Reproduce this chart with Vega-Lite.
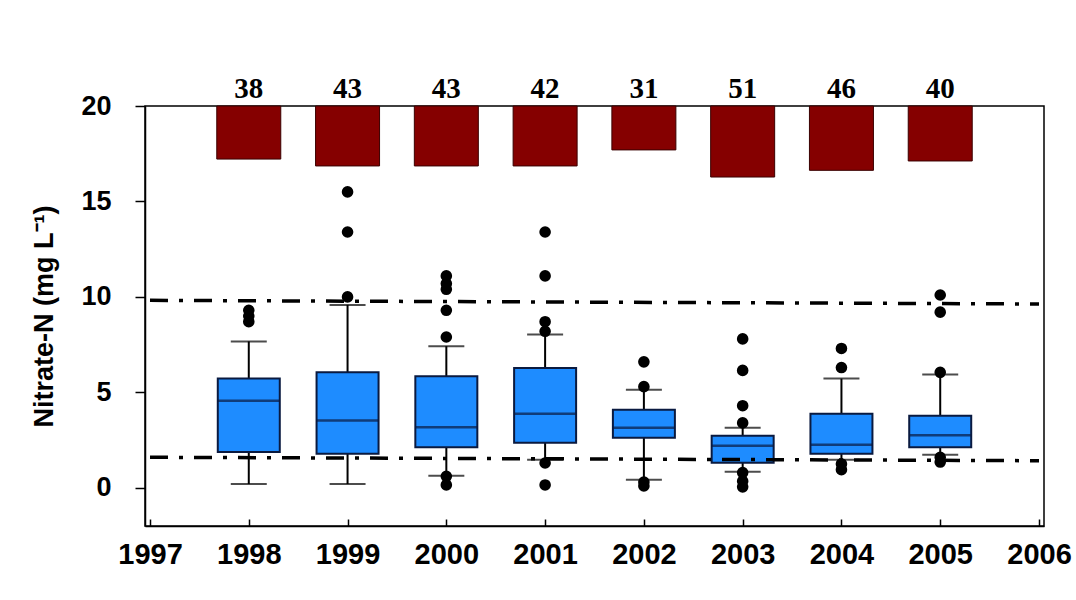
{
  "$schema": "https://vega.github.io/schema/vega-lite/v6.json",
  "width": 899,
  "height": 420,
  "autosize": {"type": "none"},
  "padding": {"left": 145, "top": 106, "right": 32, "bottom": 74},
  "background": "#ffffff",
  "config": {
    "view": {"stroke": "#000000", "strokeWidth": 1.5},
    "axis": {"domainColor": "#000000", "tickColor": "#000000", "domainWidth": 1.5, "tickWidth": 1.5, "grid": false, "labelColor": "#000000", "titleColor": "#000000", "labelFont": "Liberation Sans", "titleFont": "Liberation Sans"}
  },
  "datasets": {
    "boxes": [
      {"year": 1998, "n": 38, "barBottom": 17.22, "lw": 0.2, "q1": 1.88, "med": 4.56, "q3": 5.72, "uw": 7.67},
      {"year": 1999, "n": 43, "barBottom": 16.86, "lw": 0.2, "q1": 1.78, "med": 3.52, "q3": 6.05, "uw": 9.58},
      {"year": 2000, "n": 43, "barBottom": 16.86, "lw": 0.63, "q1": 2.12, "med": 3.17, "q3": 5.84, "uw": 7.42},
      {"year": 2001, "n": 42, "barBottom": 16.86, "lw": 1.47, "q1": 2.36, "med": 3.88, "q3": 6.28, "uw": 8.03},
      {"year": 2002, "n": 31, "barBottom": 17.7, "lw": 0.42, "q1": 2.62, "med": 3.15, "q3": 4.09, "uw": 5.14},
      {"year": 2003, "n": 51, "barBottom": 16.28, "lw": 0.84, "q1": 1.31, "med": 2.2, "q3": 2.73, "uw": 3.15},
      {"year": 2004, "n": 46, "barBottom": 16.63, "lw": 1.47, "q1": 1.78, "med": 2.26, "q3": 3.88, "uw": 5.72},
      {"year": 2005, "n": 40, "barBottom": 17.12, "lw": 1.73, "q1": 2.12, "med": 2.75, "q3": 3.78, "uw": 5.93}
    ],
    "outliers": [
      {"year": 1998, "v": 9.3}, {"year": 1998, "v": 9.0}, {"year": 1998, "v": 8.7},
      {"year": 1999, "v": 15.5}, {"year": 1999, "v": 13.4}, {"year": 1999, "v": 10.0},
      {"year": 2000, "v": 11.1}, {"year": 2000, "v": 10.7}, {"year": 2000, "v": 10.4}, {"year": 2000, "v": 9.3}, {"year": 2000, "v": 7.9}, {"year": 2000, "v": 0.6}, {"year": 2000, "v": 0.15},
      {"year": 2001, "v": 13.4}, {"year": 2001, "v": 11.1}, {"year": 2001, "v": 8.7}, {"year": 2001, "v": 8.2}, {"year": 2001, "v": 1.3}, {"year": 2001, "v": 0.15},
      {"year": 2002, "v": 6.6}, {"year": 2002, "v": 5.3}, {"year": 2002, "v": 0.3}, {"year": 2002, "v": 0.1},
      {"year": 2003, "v": 7.8}, {"year": 2003, "v": 6.15}, {"year": 2003, "v": 4.3}, {"year": 2003, "v": 3.4}, {"year": 2003, "v": 0.8}, {"year": 2003, "v": 0.35}, {"year": 2003, "v": 0.05},
      {"year": 2004, "v": 7.3}, {"year": 2004, "v": 6.3}, {"year": 2004, "v": 1.25}, {"year": 2004, "v": 0.95},
      {"year": 2005, "v": 10.1}, {"year": 2005, "v": 9.2}, {"year": 2005, "v": 6.05}, {"year": 2005, "v": 1.6}, {"year": 2005, "v": 1.35}
    ],
    "refs": [
      {"line": "upper", "x": 1997, "y": 9.82}, {"line": "upper", "x": 2006, "y": 9.63},
      {"line": "lower", "x": 1997, "y": 1.6}, {"line": "lower", "x": 2006, "y": 1.42}
    ]
  },
  "encoding": {
    "x": {
      "field": "year", "type": "quantitative",
      "scale": {"domain": [1997, 2006], "nice": false, "zero": false},
      "axis": {"title": null, "values": [1997, 1998, 1999, 2000, 2001, 2002, 2003, 2004, 2005, 2006], "format": "d", "tickSize": -7, "labelFontSize": 29, "labelFontWeight": "bold", "labelPadding": 21, "labelFlush": false}
    }
  },
  "layer": [
    {
      "data": {"name": "boxes"},
      "mark": {"type": "bar", "size": 64, "color": "#850000", "stroke": "#3a0000", "strokeWidth": 1},
      "encoding": {
        "y": {"field": "barBottom", "type": "quantitative",
          "scale": {"domain": [-2, 20], "nice": false, "zero": false},
          "axis": {"title": "Nitrate-N (mg L⁻¹)", "values": [0, 5, 10, 15, 20], "tickSize": 10, "labelFontSize": 27, "labelFontWeight": "bold", "labelPadding": 24, "titleFontSize": 27, "titleFontWeight": "bold", "titlePadding": 22}},
        "y2": {"datum": 20}
      }
    },
    {
      "data": {"name": "boxes"},
      "mark": {"type": "text", "font": "Liberation Serif", "fontWeight": "bold", "fontSize": 29, "baseline": "alphabetic", "dy": -8, "color": "#000000"},
      "encoding": {"y": {"datum": 20}, "text": {"field": "n", "type": "quantitative"}}
    },
    {
      "data": {"name": "boxes"},
      "mark": {"type": "rule", "color": "#000000", "strokeWidth": 2},
      "encoding": {"y": {"field": "lw", "type": "quantitative"}, "y2": {"field": "uw"}}
    },
    {
      "data": {"name": "boxes"},
      "mark": {"type": "tick", "orient": "horizontal", "size": 36, "thickness": 2, "color": "#000000"},
      "encoding": {"y": {"field": "lw", "type": "quantitative"}}
    },
    {
      "data": {"name": "boxes"},
      "mark": {"type": "tick", "orient": "horizontal", "size": 36, "thickness": 2, "color": "#000000"},
      "encoding": {"y": {"field": "uw", "type": "quantitative"}}
    },
    {
      "data": {"name": "boxes"},
      "mark": {"type": "bar", "size": 62, "color": "#1e8cff", "stroke": "#0a1a40", "strokeWidth": 2},
      "encoding": {"y": {"field": "q1", "type": "quantitative"}, "y2": {"field": "q3"}}
    },
    {
      "data": {"name": "boxes"},
      "mark": {"type": "tick", "orient": "horizontal", "size": 62, "thickness": 2.5, "color": "#0a1a40"},
      "encoding": {"y": {"field": "med", "type": "quantitative"}}
    },
    {
      "data": {"name": "refs"},
      "mark": {"type": "line", "color": "#000000", "strokeWidth": 3.5, "strokeDash": [18, 11, 4, 11]},
      "encoding": {
        "x": {"field": "x", "type": "quantitative"},
        "y": {"field": "y", "type": "quantitative"},
        "detail": {"field": "line"}
      }
    },
    {
      "data": {"name": "outliers"},
      "mark": {"type": "point", "shape": "circle", "filled": true, "size": 135, "color": "#000000", "opacity": 1},
      "encoding": {"y": {"field": "v", "type": "quantitative"}}
    }
  ]
}
